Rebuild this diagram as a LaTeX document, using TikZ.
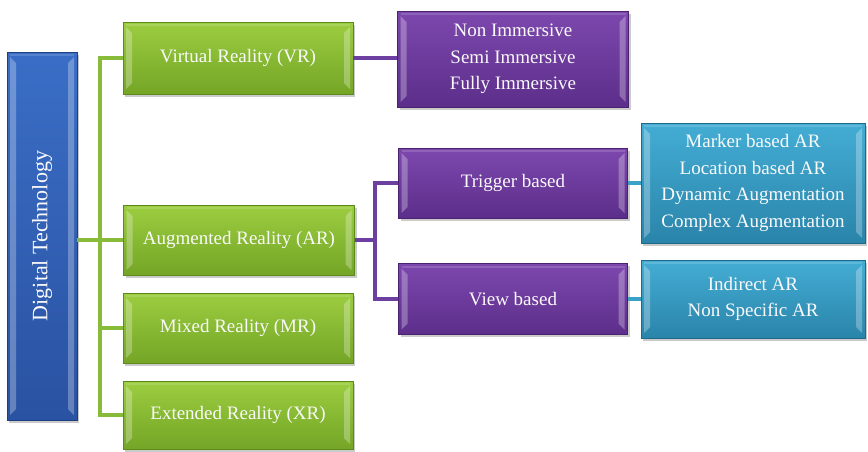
\documentclass[tikz,border=0pt]{standalone}
\usepackage{fontspec}
\setmainfont{Liberation Serif}
\usetikzlibrary{shadows}
\definecolor{gtop}{HTML}{9CCD40}
\definecolor{gbot}{HTML}{74A526}
\definecolor{gdrk}{HTML}{5C8A1C}
\definecolor{gline}{HTML}{88BB3A}
\definecolor{ptop}{HTML}{7D48AE}
\definecolor{pbot}{HTML}{5C2E8A}
\definecolor{pdrk}{HTML}{4A2270}
\definecolor{pline}{HTML}{6C3FA0}
\definecolor{btop}{HTML}{44ADD4}
\definecolor{bbot}{HTML}{2A84AA}
\definecolor{bdrk}{HTML}{1F6A8A}
\definecolor{bline}{HTML}{3AA2C6}
\definecolor{dtop}{HTML}{3A6EC6}
\definecolor{dbot}{HTML}{2A52A2}
\definecolor{ddrk}{HTML}{1E3F80}
\tikzset{
  basebox/.style={rectangle, text=white!96!gray, align=center, inner sep=0pt,
    font=\fontsize{19}{26.7}\selectfont,
    drop shadow={shadow xshift=2pt, shadow yshift=-2.5pt, opacity=0.35, fill=black!60},
    path picture={
      \fill[white,opacity=0.28] ([xshift=3pt,yshift=-5pt]path picture bounding box.north west)
        -- ([xshift=9pt,yshift=-11pt]path picture bounding box.north west)
        -- ([xshift=9pt,yshift=11pt]path picture bounding box.south west)
        -- ([xshift=3pt,yshift=5pt]path picture bounding box.south west) -- cycle;
      \fill[white,opacity=0.28] ([xshift=-3pt,yshift=-5pt]path picture bounding box.north east)
        -- ([xshift=-9pt,yshift=-11pt]path picture bounding box.north east)
        -- ([xshift=-9pt,yshift=11pt]path picture bounding box.south east)
        -- ([xshift=-3pt,yshift=5pt]path picture bounding box.south east) -- cycle;
      \fill[white,opacity=0.15] ([xshift=3pt,yshift=-2pt]path picture bounding box.north west)
        rectangle ([xshift=-3pt,yshift=-4pt]path picture bounding box.north east);
    }},
  greenbox/.style={basebox, top color=gtop, bottom color=gbot, draw=gdrk, line width=0.6pt},
  purplebox/.style={basebox, top color=ptop, bottom color=pbot, draw=pdrk, line width=0.6pt},
  bluebox/.style={basebox, top color=btop, bottom color=bbot, draw=bdrk, line width=0.6pt},
  dtbox/.style={basebox, top color=dtop, bottom color=dbot, draw=ddrk, line width=0.6pt},
  gconn/.style={draw=gline, line width=3.2pt},
  pconn/.style={draw=pline, line width=3.2pt},
  bconn/.style={draw=bline, line width=3.2pt},
}
\begin{document}
\begin{tikzpicture}[x=1pt,y=-1pt]
\useasboundingbox (0,0) rectangle (868,451);
% trunk coordinates
\coordinate (gt) at (100,0);
\coordinate (pt) at (375,0);
% nodes
\node[dtbox, minimum width=70pt, minimum height=368pt] (dt) at (42,236)
  {\rotatebox{90}{\fontsize{22}{26}\selectfont Digital Technology}};
\node[greenbox, minimum width=230pt, minimum height=72pt] (vr) at (238,58) {Virtual Reality (VR)};
\node[greenbox, minimum width=231pt, minimum height=70pt] (ar) at (239,240) {Augmented Reality (AR)};
\node[greenbox, minimum width=230pt, minimum height=70pt] (mr) at (238,328) {Mixed Reality (MR)};
\node[greenbox, minimum width=230pt, minimum height=68pt] (xr) at (238,415) {Extended Reality (XR)};
\node[purplebox, minimum width=231pt, minimum height=96pt] (imm) at (513,59)
  {Non Immersive\\Semi Immersive\\Fully Immersive};
\node[purplebox, minimum width=229pt, minimum height=70pt] (trig) at (513,183) {Trigger based};
\node[purplebox, minimum width=229pt, minimum height=71pt] (view) at (513,299) {View based};
\node[bluebox, minimum width=224pt, minimum height=120pt] (mk) at (753,183)
  {Marker based AR\\Location based AR\\Dynamic Augmentation\\Complex Augmentation};
\node[bluebox, minimum width=224pt, minimum height=78pt] (ind) at (753,299)
  {Indirect AR\\Non Specific AR};
% green connectors
\draw[gconn] (vr.west) -| (gt |- xr.west) -- (xr.west);
\draw[gconn] (dt.east |- ar.west) -- (ar.west);
\draw[gconn] (mr.west) -- (gt |- mr.west);
% purple connectors
\draw[pconn] (vr.east) -- (imm.west |- vr.east);
\draw[pconn] (ar.east) -- (pt |- ar.east);
\draw[pconn] (trig.west) -| (pt |- view.west) -- (view.west);
% blue connectors
\draw[bconn] (trig.east) -- (mk.west |- trig.east);
\draw[bconn] (view.east) -- (ind.west |- view.east);
\end{tikzpicture}
\end{document}
